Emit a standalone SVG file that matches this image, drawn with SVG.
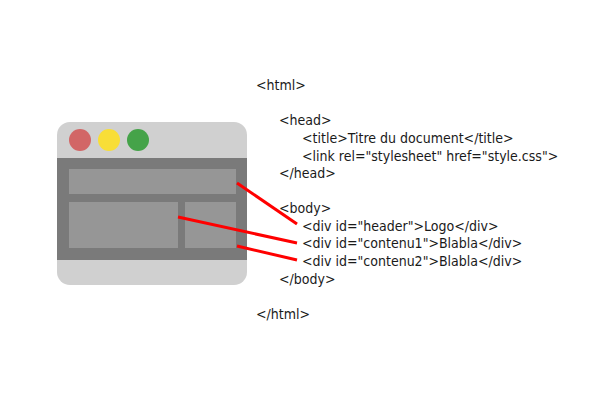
<svg xmlns="http://www.w3.org/2000/svg" width="592" height="400" viewBox="0 0 592 400">
<style>
.code{font-family:"DejaVu Sans Condensed","Liberation Sans",sans-serif;font-size:14px;fill:#1a1a1a}
.box{fill:#969696}
.link{stroke:#ff0000;stroke-width:3;fill:none;stroke-linecap:butt}
</style>
<rect width="592" height="400" fill="#ffffff"/>
<g id="browser">
<rect x="57" y="122" width="190" height="163" rx="13" fill="#d0d0d0"/>
<rect x="57" y="158" width="190" height="102" fill="#7a7a7a"/>
<circle cx="80" cy="140" r="11" fill="#d26666"/>
<circle cx="109" cy="140" r="11" fill="#f8de37"/>
<circle cx="138" cy="140" r="11" fill="#45a349"/>
</g>
<g id="header-box"><rect class="box" x="69" y="169" width="167" height="25"/></g>
<g id="contenu1-box"><rect class="box" x="69" y="202" width="109" height="46"/></g>
<g id="contenu2-box"><rect class="box" x="185" y="202" width="51" height="46"/></g>
<g id="code">
<text class="code" x="256" y="90">&lt;html&gt;</text>
<text class="code" x="279" y="125">&lt;head&gt;</text>
<text class="code" x="302" y="143">&lt;title&gt;Titre du document&lt;/title&gt;</text>
<text class="code" x="302" y="161">&lt;link rel="stylesheet" href="style.css"&gt;</text>
<text class="code" x="279" y="178">&lt;/head&gt;</text>
<text class="code" x="279" y="213">&lt;body&gt;</text>
<text class="code" x="302" y="231">&lt;div id="header"&gt;Logo&lt;/div&gt;</text>
<text class="code" x="302" y="248">&lt;div id="contenu1"&gt;Blabla&lt;/div&gt;</text>
<text class="code" x="302" y="266">&lt;div id="contenu2"&gt;Blabla&lt;/div&gt;</text>
<text class="code" x="279" y="284">&lt;/body&gt;</text>
<text class="code" x="256" y="319">&lt;/html&gt;</text>
</g>
<g id="connectors">
<line class="link" x1="237" y1="183" x2="297" y2="224"/>
<line class="link" x1="178" y1="217" x2="297" y2="243"/>
<line class="link" x1="237" y1="246" x2="297" y2="260"/>
</g>
</svg>
